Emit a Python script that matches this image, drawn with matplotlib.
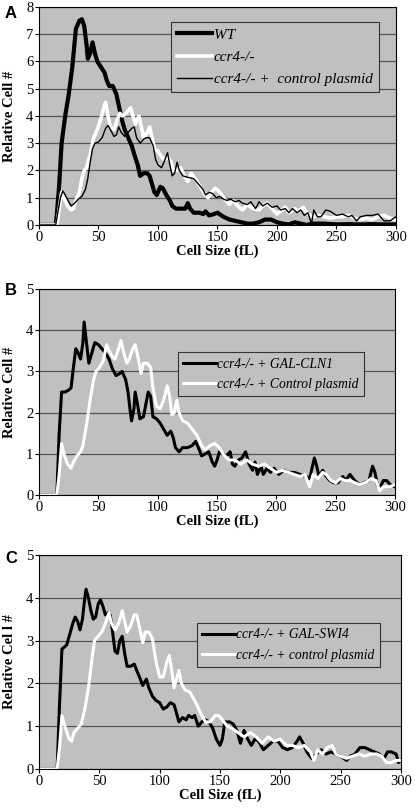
import matplotlib
matplotlib.use("Agg")
import matplotlib.pyplot as plt

plt.rcParams['font.family'] = ['Liberation Serif', 'DejaVu Serif']

# (cell size fL, relative cell #)
wt = [(0, 0), (14, 0), (15, 0.4), (17, 1.5), (19, 3.0), (22, 4.0), (25, 4.8), (28, 5.8), (31, 7.2),
      (34, 7.5), (36, 7.55), (38, 7.3), (40, 6.6), (41, 6.1), (43, 6.3), (45, 6.7), (47, 6.3),
      (49, 6.0), (52, 5.8), (55, 5.6), (57, 5.3), (59, 5.1), (62, 5.1), (65, 4.8), (67, 4.4),
      (70, 3.8), (72, 3.5), (75, 3.2), (78, 2.9), (80, 2.6), (83, 2.2), (85, 1.8), (88, 1.9),
      (91, 1.9), (93, 1.8), (95, 1.5), (97, 1.2), (99, 1.1), (102, 1.4), (104, 1.35), (107, 1.1),
      (110, 0.9), (112, 0.7), (115, 0.6), (120, 0.6), (123, 0.6), (125, 0.8), (127, 0.6),
      (130, 0.45), (135, 0.45), (138, 0.4), (140, 0.5), (143, 0.35), (147, 0.4), (150, 0.45),
      (155, 0.3), (160, 0.2), (165, 0.15), (170, 0.1), (175, 0.05), (180, 0.05), (185, 0.1),
      (190, 0.2), (195, 0.2), (200, 0.1), (205, 0.05), (210, 0.02), (215, 0.1), (220, 0.05),
      (225, 0.0), (230, 0.05), (240, 0.05), (250, 0.02), (260, 0.03), (270, 0.02), (280, 0.03),
      (290, 0.02), (300, 0.02)]

ccr4 = [(0, 0), (15, 0), (17, 0.6), (19, 1.2), (21, 1.0), (24, 0.7), (27, 0.55), (29, 0.6),
        (31, 0.9), (34, 1.2), (36, 1.7), (38, 2.0), (40, 2.1), (43, 2.6), (46, 3.2), (49, 3.5),
        (52, 3.9), (55, 4.4), (56, 4.5), (58, 4.0), (60, 3.6), (63, 3.5), (66, 3.9), (68, 4.1),
        (70, 4.0), (72, 4.05), (75, 4.2), (77, 4.3), (79, 4.0), (81, 3.7), (84, 4.0), (86, 3.6),
        (88, 3.2), (91, 3.4), (93, 3.6), (95, 3.2), (97, 2.8), (100, 2.7), (103, 2.5), (105, 2.4),
        (108, 2.5), (111, 2.3), (113, 2.0), (116, 2.0), (119, 2.1), (122, 1.8), (125, 1.6),
        (128, 1.9), (131, 1.7), (134, 1.5), (137, 1.3), (140, 1.1), (142, 1.0), (145, 1.2),
        (148, 1.35), (151, 1.25), (155, 1.0), (160, 0.75), (163, 0.9), (167, 0.7), (171, 0.55),
        (175, 0.75), (180, 0.6), (185, 0.55), (188, 0.7), (192, 0.8), (196, 0.6), (200, 0.4),
        (203, 0.5), (207, 0.65), (210, 0.45), (215, 0.6), (218, 0.5), (222, 0.65), (226, 0.4),
        (230, 0.3), (235, 0.35), (240, 0.3), (245, 0.25), (250, 0.3), (255, 0.3), (260, 0.35),
        (265, 0.25), (270, 0.2), (275, 0.25), (280, 0.2), (285, 0.3), (290, 0.35), (295, 0.25),
        (300, 0.2)]

ccr4_ctrl = [(0, 0), (14, 0), (16, 0.5), (18, 1.0), (20, 1.25), (22, 1.1), (25, 0.85), (27, 0.7),
             (30, 0.8), (33, 0.95), (36, 1.05), (39, 1.3), (41, 1.7), (43, 2.3), (45, 2.8),
             (47, 3.0), (50, 3.05), (53, 3.2), (56, 3.55), (58, 3.65), (60, 3.5), (63, 3.25),
             (65, 3.3), (67, 3.6), (69, 3.4), (72, 3.25), (75, 3.4), (78, 3.55), (80, 3.6),
             (82, 3.2), (85, 3.0), (88, 3.15), (90, 3.2), (93, 3.2), (96, 2.9), (98, 2.4),
             (100, 2.2), (103, 2.1), (105, 2.3), (108, 2.65), (110, 2.2), (112, 1.8), (114, 1.9),
             (116, 2.3), (118, 2.0), (121, 1.8), (125, 1.75), (130, 1.7), (134, 1.5), (138, 1.3),
             (140, 1.1), (143, 1.2), (146, 1.15), (149, 1.0), (152, 1.05), (155, 0.95), (158, 0.9),
             (161, 0.95), (165, 0.85), (168, 0.9), (171, 0.8), (175, 0.75), (178, 0.85), (182, 0.6),
             (185, 0.85), (188, 0.7), (192, 0.8), (196, 0.65), (200, 0.7), (203, 0.55), (207, 0.6),
             (210, 0.45), (213, 0.6), (217, 0.45), (220, 0.55), (223, 0.35), (226, 0.45),
             (229, 0.05), (231, 0.55), (234, 0.3), (237, 0.3), (241, 0.55), (245, 0.5), (250, 0.35),
             (255, 0.4), (260, 0.3), (263, 0.35), (267, 0.15), (270, 0.3), (275, 0.35), (280, 0.35),
             (285, 0.4), (290, 0.15), (295, 0.15), (300, 0.3)]

gal_cln1 = [(0, 0), (15, 0), (17, 1.5), (19, 2.5), (22, 2.5), (25, 2.55), (27, 2.6), (29, 3.1),
            (31, 3.55), (33, 3.45), (35, 3.3), (37, 3.7), (38, 4.2), (40, 3.7), (42, 3.2),
            (44, 3.4), (47, 3.7), (50, 3.65), (53, 3.55), (56, 3.45), (59, 3.3), (62, 3.05),
            (65, 2.9), (68, 2.95), (70, 3.0), (73, 2.8), (75, 2.5), (77, 2.0), (78, 1.8), (80, 2.1),
            (81, 2.5), (83, 2.2), (85, 1.85), (88, 1.9), (90, 2.2), (92, 2.5), (94, 2.4), (96, 1.9),
            (99, 1.85), (102, 1.75), (105, 1.6), (108, 1.45), (111, 1.55), (113, 1.4), (115, 1.15),
            (118, 1.05), (121, 1.15), (125, 1.15), (129, 1.2), (132, 1.3), (135, 1.1), (137, 0.95),
            (140, 1.0), (143, 1.05), (146, 0.8), (148, 0.7), (150, 0.85), (152, 1.05), (155, 1.0),
            (158, 0.95), (161, 1.05), (163, 0.75), (165, 0.7), (168, 0.85), (171, 0.9), (174, 1.05),
            (177, 0.75), (180, 0.6), (182, 0.8), (184, 0.5), (187, 0.7), (189, 0.5), (192, 0.65),
            (195, 0.55), (198, 0.65), (202, 0.5), (206, 0.6), (210, 0.55), (215, 0.55), (220, 0.5),
            (225, 0.45), (228, 0.4), (232, 0.9), (234, 0.7), (236, 0.45), (239, 0.6), (242, 0.45),
            (245, 0.35), (248, 0.3), (252, 0.3), (256, 0.45), (258, 0.35), (262, 0.5), (266, 0.35),
            (270, 0.25), (274, 0.3), (278, 0.35), (281, 0.7), (283, 0.55), (285, 0.25), (287, 0.15),
            (290, 0.35), (293, 0.35), (296, 0.25), (300, 0.2)]

ctrl_b = [(0, 0), (15, 0), (17, 0.5), (19, 1.25), (21, 1.0), (24, 0.75), (27, 0.65), (29, 0.8),
          (32, 0.95), (35, 1.05), (37, 1.2), (40, 1.7), (43, 2.3), (46, 2.8), (48, 3.0), (51, 3.1),
          (54, 3.25), (57, 3.65), (59, 3.5), (62, 3.35), (64, 3.3), (67, 3.55), (69, 3.75),
          (71, 3.5), (74, 3.2), (76, 3.3), (79, 3.55), (81, 3.65), (83, 3.4), (86, 2.95), (88, 3.2),
          (91, 3.2), (94, 3.1), (96, 2.6), (99, 2.15), (102, 2.1), (105, 2.3), (108, 2.65),
          (110, 2.4), (112, 1.95), (114, 2.0), (116, 2.3), (118, 2.0), (121, 1.8), (125, 1.75),
          (129, 1.6), (133, 1.45), (137, 1.2), (140, 1.1), (144, 1.2), (148, 1.25), (152, 1.15),
          (155, 1.0), (160, 0.85), (165, 0.85), (170, 0.75), (175, 0.85), (180, 0.75), (185, 0.7),
          (190, 0.75), (195, 0.65), (200, 0.55), (205, 0.6), (210, 0.55), (215, 0.5), (220, 0.45),
          (224, 0.5), (228, 0.2), (231, 0.5), (235, 0.4), (239, 0.55), (242, 0.5), (246, 0.35),
          (250, 0.3), (254, 0.4), (258, 0.35), (262, 0.35), (266, 0.3), (270, 0.25), (275, 0.3),
          (280, 0.4), (284, 0.35), (287, 0.1), (290, 0.2), (295, 0.2), (300, 0.25)]

gal_swi4 = [(0, 0), (15, 0), (17, 1.5), (19, 2.8), (21, 2.85), (23, 2.9), (25, 3.1), (28, 3.4),
            (30, 3.55), (32, 3.45), (34, 3.25), (36, 3.5), (38, 4.0), (39, 4.2), (41, 4.0),
            (43, 3.7), (45, 3.5), (47, 3.55), (49, 3.85), (51, 3.95), (53, 3.8), (55, 3.6),
            (57, 3.65), (59, 3.6), (61, 3.2), (63, 2.75), (65, 2.7), (67, 3.0), (69, 3.1), (71, 2.7),
            (73, 2.4), (76, 2.4), (79, 2.45), (81, 2.3), (84, 2.1), (86, 1.95), (89, 2.1), (91, 1.9),
            (94, 1.7), (97, 1.6), (100, 1.55), (103, 1.4), (106, 1.45), (109, 1.55), (112, 1.5),
            (114, 1.3), (116, 1.1), (119, 1.2), (122, 1.15), (124, 1.25), (127, 1.2), (129, 1.25),
            (132, 1.0), (135, 1.1), (138, 1.15), (141, 1.1), (144, 0.95), (147, 0.7), (150, 0.55),
            (152, 0.7), (154, 1.1), (158, 1.1), (161, 1.05), (164, 0.9), (167, 0.6), (170, 0.9),
            (173, 0.7), (176, 0.55), (179, 0.7), (182, 0.65), (186, 0.45), (190, 0.55), (194, 0.65),
            (198, 0.65), (202, 0.5), (206, 0.45), (210, 0.5), (214, 0.65), (216, 0.75), (219, 0.6),
            (222, 0.4), (226, 0.25), (230, 0.35), (234, 0.45), (238, 0.35), (242, 0.4), (246, 0.35),
            (250, 0.3), (255, 0.2), (258, 0.3), (262, 0.35), (266, 0.5), (270, 0.5), (274, 0.45),
            (278, 0.4), (282, 0.35), (286, 0.25), (289, 0.4), (292, 0.4), (296, 0.35), (298, 0.15),
            (300, 0.2)]

ctrl_c = [(0, 0), (15, 0), (17, 0.5), (19, 1.25), (22, 0.95), (25, 0.7), (27, 0.65), (29, 0.85),
          (32, 0.95), (35, 1.05), (38, 1.4), (41, 1.9), (44, 2.6), (46, 3.0), (49, 3.1), (52, 3.2),
          (55, 3.4), (58, 3.65), (60, 3.4), (63, 3.25), (66, 3.4), (69, 3.7), (71, 3.45), (73, 3.2),
          (76, 3.35), (79, 3.6), (81, 3.6), (83, 3.35), (86, 2.95), (88, 3.2), (91, 3.2), (94, 3.05),
          (97, 2.5), (100, 2.15), (103, 2.15), (106, 2.5), (108, 2.65), (110, 2.3), (112, 1.9),
          (114, 2.1), (116, 2.3), (118, 2.0), (121, 1.85), (125, 1.8), (130, 1.55), (134, 1.3),
          (138, 1.1), (142, 1.1), (146, 1.25), (149, 1.25), (152, 1.15), (156, 1.0), (160, 0.95),
          (165, 0.85), (170, 0.75), (175, 0.85), (180, 0.75), (185, 0.6), (190, 0.75), (195, 0.65),
          (200, 0.7), (205, 0.55), (210, 0.55), (215, 0.5), (220, 0.55), (225, 0.4), (228, 0.2),
          (231, 0.45), (235, 0.35), (239, 0.5), (243, 0.55), (246, 0.35), (250, 0.3), (255, 0.25),
          (260, 0.3), (265, 0.35), (270, 0.3), (275, 0.35), (280, 0.35), (284, 0.3), (288, 0.15),
          (292, 0.15), (296, 0.2), (300, 0.2)]

x_ticks = [0, 50, 100, 150, 200, 250, 300]
bg = '#c0c0c0'


def style_axes(ax, ymax, ylabel):
    ax.set_facecolor(bg)
    ax.set_xlim(0, 300)
    ax.set_ylim(0, ymax)
    ax.set_xticks(x_ticks)
    ax.set_yticks(range(0, ymax + 1))
    ax.yaxis.grid(True, color='#555555', lw=0.9)
    ax.set_axisbelow(True)
    for s in ax.spines.values():
        s.set_color('black')
        s.set_linewidth(0.8)
    ax.tick_params(labelsize=10.5, length=3, width=0.8, pad=1)
    ax.set_xlabel('Cell Size (fL)', fontsize=10.5, fontweight='bold', labelpad=1)
    ax.set_ylabel(ylabel, fontsize=10.5, fontweight='bold', labelpad=7)


def add_legend(ax, anchor, size, hlen):
    leg = ax.legend(loc='upper right', bbox_to_anchor=anchor, fancybox=False, framealpha=1,
                    facecolor=bg, edgecolor='#333333', prop={'style': 'italic', 'size': size},
                    handlelength=hlen, handletextpad=0.1, labelspacing=0.55, borderpad=0.4,
                    borderaxespad=0)
    leg.get_frame().set_linewidth(0.8)


fig = plt.figure(figsize=(4.15, 8.11), dpi=100)

# panel A
ax = fig.add_axes([0.094, 0.7226, 0.860, 0.2688])
for data, c, lw, lab in [(wt, 'black', 3.0, 'WT'),
                         (ccr4, 'white', 2.6, 'ccr4-/-'),
                         (ccr4_ctrl, 'black', 1.0, 'ccr4-/- +  control plasmid')]:
    xs, ys = zip(*data)
    ax.plot(xs, ys, color=c, lw=lw, label=lab)
style_axes(ax, 8, 'Relative Cell #')
add_legend(ax, (0.952, 0.931), 11, 2.3)
fig.text(0.012, 0.978, 'A', family='Liberation Sans', fontweight='bold', fontsize=12)

# panel B
ax = fig.add_axes([0.094, 0.3896, 0.858, 0.254])
for data, c, lab in [(gal_cln1, 'black', 'ccr4-/- + GAL-CLN1'),
                     (ctrl_b, 'white', 'ccr4-/- + Control plasmid')]:
    xs, ys = zip(*data)
    ax.plot(xs, ys, color=c, lw=2.2, label=lab)
style_axes(ax, 5, 'Relative Cell #')
add_legend(ax, (0.913, 0.694), 9.8, 2.4)
fig.text(0.012, 0.636, 'B', family='Liberation Sans', fontweight='bold', fontsize=12)

# panel C
ax = fig.add_axes([0.094, 0.0518, 0.872, 0.2639])
for data, c, lab in [(gal_swi4, 'black', 'ccr4-/- + GAL-SWI4'),
                     (ctrl_c, 'white', 'ccr4-/- + control plasmid')]:
    xs, ys = zip(*data)
    ax.plot(xs, ys, color=c, lw=2.2, label=lab)
style_axes(ax, 5, 'Relative Cel l #')
add_legend(ax, (0.942, 0.682), 9.8, 2.4)
fig.text(0.012, 0.306, 'C', family='Liberation Sans', fontweight='bold', fontsize=12)

plt.savefig('out.png', dpi=100)
